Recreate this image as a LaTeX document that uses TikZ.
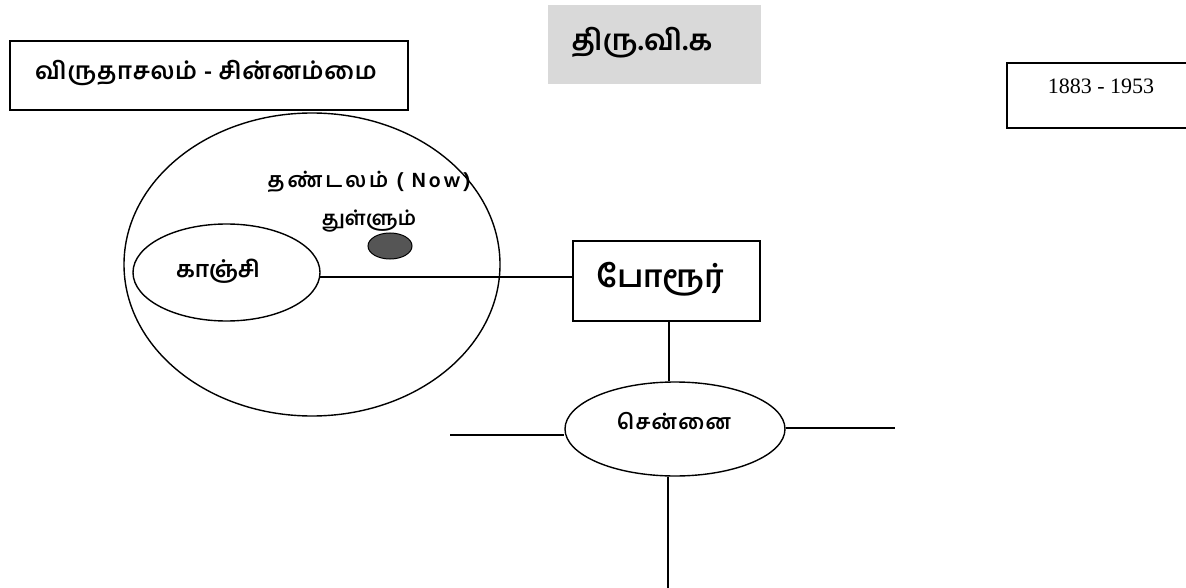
\documentclass[tikz,border=0pt]{standalone}
\usepackage{fontspec}
\newfontfamily\tamil[Script=Tamil]{Hind Madurai}
\newfontfamily\serifnum{Liberation Serif}
\usetikzlibrary{shapes.geometric}
\definecolor{boxgray}{HTML}{D9D9D9}
\definecolor{dotgray}{HTML}{555555}
\tikzset{
  box/.style={draw, line width=1.8pt, inner sep=0pt},
  oval/.style={draw, ellipse, line width=1.4pt, inner sep=0pt},
  lbl/.style={inner sep=0pt},
  link/.style={line width=2pt}
}
\newcommand{\tam}[1]{\tamil\bfseries\fontsize{#1}{#1}\selectfont}
\begin{document}
\begin{tikzpicture}[x=1pt,y=-1pt]
\useasboundingbox (0,0) rectangle (1186,588);
% top-left box
\node[box, minimum width=398pt, minimum height=69pt] (parents) at (209,75.5) {};
\node[lbl, font=\tam{24}\addfontfeatures{LetterSpace=3}, anchor=west] (parentstxt) at (35,73) {விருதாசலம் - சின்னம்மை};
% title
\node[fill=boxgray, minimum width=213pt, minimum height=79pt, inner sep=0pt] (title) at (654.5,44.5) {};
\node[lbl, font=\tam{29}] (titletxt) at (642,43) {திரு.வி.க};
% years box
\node[box, minimum width=200pt, minimum height=65pt] (years) at (1107,95.5) {};
\node[lbl, font=\serifnum\fontsize{22}{24}\selectfont] (yearstxt) at (1101,86) {1883 - 1953};
% big ellipse
\node[oval, minimum width=376pt, minimum height=303pt] (big) at (312,264.5) {};
\node[lbl, font=\tam{21}\addfontfeatures{LetterSpace=14}] (thandalam) at (369,182) {தண்டலம் ( Now)};
\node[lbl, font=\tam{20}] (thullum) at (369,221) {துள்ளும்};
\node[ellipse, fill=dotgray, draw=black, line width=1pt, minimum width=44pt, minimum height=26pt, inner sep=0pt] (dot) at (390,246) {};
% kanchi
\node[oval, minimum width=187pt, minimum height=97pt] (kanchi) at (226.5,272.5) {};
\node[lbl, font=\tam{23}] (kanchitxt) at (218,271) {காஞ்சி};
% porur
\node[box, minimum width=187pt, minimum height=80pt] (porur) at (666.5,281) {};
\node[lbl, font=\tam{31}] (porurtxt) at (660,279) {போரூர்};
% chennai
\node[oval, minimum width=220pt, minimum height=94pt] (chennai) at (675,429) {};
\node[lbl, font=\tam{21}\addfontfeatures{LetterSpace=6}] (chennaitxt) at (674,421) {சென்னை};
% connectors
\coordinate (cl) at (450,435);
\coordinate (cr) at (895,428);
\coordinate (cb) at (668,588);
\draw[link] (kanchi.-3.5) -- (porur.west |- kanchi.-3.5);
\draw[link] ([xshift=2pt]porur.south) -- ([xshift=2pt]porur.south |- chennai.north);
\draw[link] (cl) -- (chennai.west |- cl);
\draw[link] (chennai.east |- cr) -- (cr);
\draw[link] (cb |- chennai.south) -- (cb);
\end{tikzpicture}
\end{document}
